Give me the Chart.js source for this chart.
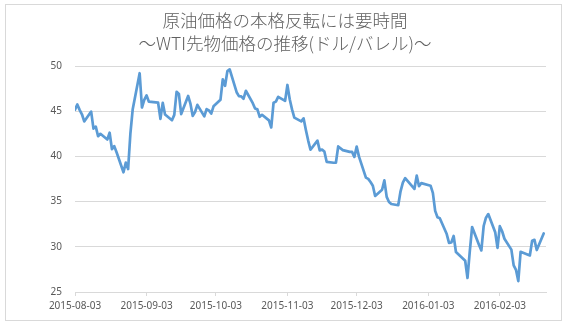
<!DOCTYPE html>
<html lang="ja">
<head>
<meta charset="utf-8">
<title>WTI先物価格の推移</title>
<script src="https://cdn.jsdelivr.net/npm/chart.js@4.4.1/dist/chart.umd.min.js"></script>
<style>
    html, body { margin: 0; padding: 0; background: #ffffff; }
    #wrap { position: relative; width: 570px; height: 328px; }
</style>
</head>
<body>
<div id="wrap"><canvas id="wtiChart" width="570" height="328"></canvas></div>
<script>
// --- データ（WTI先物終値, ドル/バレル） ---
const titleLines = ['原油価格の本格反転には要時間', '～WTI先物価格の推移(ドル/バレル)～'];

const tradeDates = [
    '2015-08-03', '2015-08-04', '2015-08-05', '2015-08-06', '2015-08-07',
    '2015-08-10', '2015-08-11', '2015-08-12', '2015-08-13', '2015-08-14',
    '2015-08-17', '2015-08-18', '2015-08-19', '2015-08-20', '2015-08-21',
    '2015-08-24', '2015-08-25', '2015-08-26', '2015-08-27', '2015-08-28',
    '2015-08-31', '2015-09-01', '2015-09-02', '2015-09-03', '2015-09-04',
    '2015-09-08', '2015-09-09', '2015-09-10', '2015-09-11',
    '2015-09-14', '2015-09-15', '2015-09-16', '2015-09-17', '2015-09-18',
    '2015-09-21', '2015-09-22', '2015-09-23', '2015-09-24', '2015-09-25',
    '2015-09-28', '2015-09-29', '2015-09-30', '2015-10-01', '2015-10-02',
    '2015-10-05', '2015-10-06', '2015-10-07', '2015-10-08', '2015-10-09',
    '2015-10-12', '2015-10-13', '2015-10-14', '2015-10-15', '2015-10-16',
    '2015-10-19', '2015-10-20', '2015-10-21', '2015-10-22', '2015-10-23',
    '2015-10-26', '2015-10-27', '2015-10-28', '2015-10-29', '2015-10-30',
    '2015-11-02', '2015-11-03', '2015-11-04', '2015-11-05', '2015-11-06',
    '2015-11-09', '2015-11-10', '2015-11-11', '2015-11-12', '2015-11-13',
    '2015-11-16', '2015-11-17', '2015-11-18', '2015-11-19', '2015-11-20',
    '2015-11-23', '2015-11-24', '2015-11-25', '2015-11-27',
    '2015-11-30', '2015-12-01', '2015-12-02', '2015-12-03', '2015-12-04',
    '2015-12-07', '2015-12-08', '2015-12-09', '2015-12-10', '2015-12-11',
    '2015-12-14', '2015-12-15', '2015-12-16', '2015-12-17', '2015-12-18',
    '2015-12-21', '2015-12-22', '2015-12-23', '2015-12-24',
    '2015-12-28', '2015-12-29', '2015-12-30', '2015-12-31',
    '2016-01-04', '2016-01-05', '2016-01-06', '2016-01-07', '2016-01-08',
    '2016-01-11', '2016-01-12', '2016-01-13', '2016-01-14', '2016-01-15',
    '2016-01-19', '2016-01-20', '2016-01-21', '2016-01-22',
    '2016-01-25', '2016-01-26', '2016-01-27', '2016-01-28', '2016-01-29',
    '2016-02-01', '2016-02-02', '2016-02-03', '2016-02-04', '2016-02-05',
    '2016-02-08', '2016-02-09', '2016-02-10', '2016-02-11', '2016-02-12',
    '2016-02-16', '2016-02-17', '2016-02-18', '2016-02-19',
    '2016-02-22'
];

const wtiPrices = [
    45.17, 45.74, 45.15, 44.66, 43.87,
    44.96, 43.08, 43.30, 42.23, 42.50,
    41.87, 42.62, 40.80, 41.14, 40.45,
    38.24, 39.31, 38.60, 42.56, 45.22,
    49.20, 45.41, 46.25, 46.75, 46.05,
    45.94, 44.15, 45.92, 44.63,
    44.00, 44.59, 47.15, 46.90, 44.68,
    46.68, 45.83, 44.48, 44.91, 45.70,
    44.43, 45.23, 45.09, 44.74, 45.54,
    46.26, 48.53, 47.81, 49.43, 49.63,
    47.10, 46.66, 46.64, 46.38, 47.26,
    45.89, 45.29, 45.20, 44.38, 44.60,
    43.98, 43.20, 45.94, 46.06, 46.59,
    46.14, 47.90, 46.32, 45.20, 44.29,
    43.87, 44.21, 42.93, 41.75, 40.74,
    41.74, 40.67, 40.75, 40.54, 39.40,
    39.30, 39.30, 41.10, 40.70,
    40.50, 40.50, 39.94, 41.08, 39.97,
    37.65, 37.51, 37.16, 36.76, 35.62,
    36.31, 37.35, 35.52, 34.95, 34.73,
    34.60, 36.14, 37.10, 37.60,
    36.40, 37.87, 36.70, 37.04,
    36.76, 35.97, 33.97, 33.27, 33.16,
    31.41, 30.44, 30.48, 31.20, 29.42,
    28.46, 26.55, 29.53, 32.19,
    30.20, 29.60, 32.30, 33.22, 33.62,
    31.62, 29.88, 32.28, 31.72, 30.89,
    29.69, 27.94, 27.45, 26.21, 29.44,
    29.04, 30.66, 30.77, 29.64,
    31.48
];

// 目盛りラベル（毎月3日）と軸の範囲
const monthTicks = ['2015-08-03', '2015-09-03', '2015-10-03', '2015-11-03', '2015-12-03', '2016-01-03', '2016-02-03'];
const axisStart = '2015-08-03';
const axisEnd = '2016-02-23';
const yTicks = [25, 30, 35, 40, 45, 50];

// 日付 → 開始日からの日数
const DAY = 86400000;
function dayOf(s) {
    const p = s.split('-').map(Number);
    return (Date.UTC(p[0], p[1] - 1, p[2]) - Date.UTC(2015, 7, 3)) / DAY;
}

const points = tradeDates.map((d, i) => ({ x: dayOf(d), y: wtiPrices[i] }));
const tickDays = monthTicks.map(dayOf);

const textColor = '#595959';
const gridColor = '#d9d9d9';

// 外枠
const frame = {
    id: 'frame',
    beforeDraw(chart) {
        const c = chart.ctx;
        c.save();
        c.fillStyle = '#ffffff';
        c.fillRect(0, 0, chart.width, chart.height);
        c.strokeStyle = gridColor;
        c.lineWidth = 1;
        c.strokeRect(5.5, 4.5, 556, 316);
        c.restore();
    }
};

new Chart(document.getElementById('wtiChart'), {
    type: 'line',
    data: {
        datasets: [{
            label: 'WTI',
            data: points,
            borderColor: '#5B9BD5',
            borderWidth: 2.7,
            borderJoinStyle: 'round',
            borderCapStyle: 'round',
            pointRadius: 0,
            tension: 0,
            fill: false
        }]
    },
    options: {
        responsive: false,
        animation: false,
        // 左右対称の余白でタイトルをキャンバス中央に置く
        layout: { padding: { left: 12, right: 12, top: 0, bottom: 0 } },
        plugins: {
            legend: { display: false },
            tooltip: { enabled: false },
            title: {
                display: true,
                text: titleLines,
                color: '#606060',
                font: { family: '"Noto Sans CJK JP", "Noto Sans", sans-serif', size: 17.5, weight: 300, lineHeight: '23px' },
                padding: { top: 9, bottom: 11 }
            }
        },
        scales: {
            x: {
                type: 'linear',
                min: dayOf(axisStart),
                max: dayOf(axisEnd),
                afterBuildTicks: axis => { axis.ticks = tickDays.map(v => ({ value: v })); },
                afterFit: axis => { axis.height = 36; },
                ticks: {
                    autoSkip: false,
                    maxRotation: 0,
                    padding: 4,
                    color: textColor,
                    font: { family: '"Noto Sans", sans-serif', size: 10 },
                    callback: val => monthTicks[tickDays.indexOf(val)]
                },
                grid: {
                    drawOnChartArea: false,
                    drawTicks: true,
                    tickLength: 4,
                    color: gridColor
                },
                border: { display: true, color: gridColor }
            },
            y: {
                min: 25,
                max: 50,
                afterBuildTicks: axis => { axis.ticks = yTicks.map(v => ({ value: v })); },
                afterFit: axis => { axis.width = 63; },
                ticks: {
                    padding: 13,
                    color: textColor,
                    font: { family: '"Noto Sans", sans-serif', size: 10 }
                },
                grid: { color: gridColor, drawTicks: false },
                border: { display: false }
            },
            // 右側の空き（目盛りなし）
            yRight: {
                position: 'right',
                min: 25,
                max: 50,
                afterFit: axis => { axis.width = 12; },
                ticks: { display: false },
                grid: { display: false, drawTicks: false },
                border: { display: false }
            }
        }
    },
    plugins: [frame]
});
</script>
</body>
</html>
